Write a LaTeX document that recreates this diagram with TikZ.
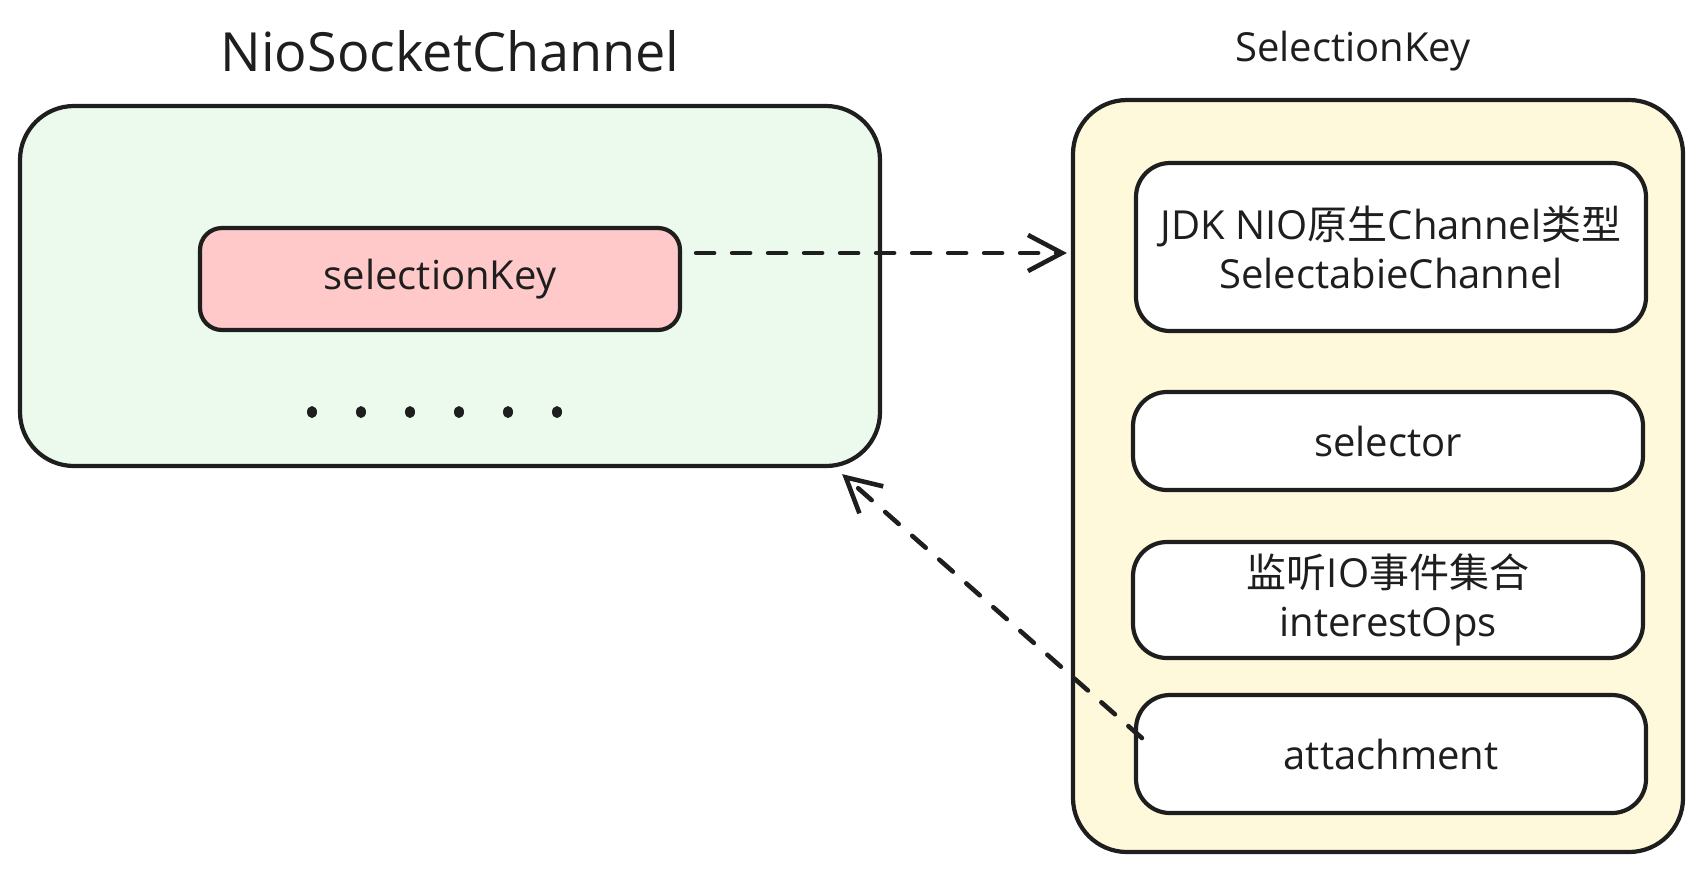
\documentclass[tikz,border=0pt]{standalone}
\usepackage{fontspec}
\setmainfont{Open Sans}
\newfontfamily\cjk{Noto Sans CJK SC}
\usetikzlibrary{arrows.meta}
\definecolor{ink}{HTML}{1E1E1E}
\definecolor{chanfill}{HTML}{EBFAEC}
\definecolor{keyfill}{HTML}{FFC9C9}
\definecolor{selfill}{HTML}{FFF9DB}
\tikzset{
    box/.style={draw=ink, line width=2.1pt, rounded corners=#1, inner sep=0pt,
        align=center, text=ink, font=\fontsize{20}{24.5}\selectfont},
    box/.default=17pt,
    field/.style={box, fill=white, minimum width=255pt},
    title/.style={text=ink, font=\fontsize{27}{32}\selectfont},
    ref/.style={draw=ink, line width=2.3pt, dash pattern=on 9pt off 9pt, line cap=round,
        -{Straight Barb[length=17pt,width=18pt,line width=2.3pt]}},
}
\begin{document}
\begin{tikzpicture}[x=0.5pt,y=-0.5pt]
    \useasboundingbox (0,0) rectangle (1700,874);
    % NioSocketChannel
    \node[title] (chantitle) at (450,51) {NioSocketChannel};
    \node[box=27pt, fill=chanfill, minimum width=430pt, minimum height=180pt] (chan) at (450,286) {};
    \node[box=11pt, fill=keyfill, minimum width=240pt, minimum height=51pt] (sk) at (440,279) {selectionKey};
    \foreach \x in {0,...,5}
        \fill[ink] (312+49*\x,412) ellipse (2.5pt and 3pt);
    % SelectionKey
    \node[title, font=\fontsize{20}{24}\selectfont] (keytitle) at (1353,51) {SelectionKey};
    \node[box=27pt, fill=selfill, minimum width=305pt, minimum height=376pt] (key) at (1378,476) {};
    \node[field, minimum height=84pt] (native) at (1391,247)
        {JDK NIO{\cjk 原生}Channel{\cjk 类型}\\SelectabieChannel};
    \node[field, minimum height=49pt] (selector) at (1388,441) {selector};
    \node[field, minimum height=58pt] (ops) at (1388,600) {{\cjk 监听}IO{\cjk 事件集合}\\interestOps};
    \node[field, minimum height=59pt] (att) at (1391,754) {attachment};
    % References
    \draw[ref] ([xshift=7pt,yshift=13pt]sk.east) -- ([xshift=-2pt,yshift=13pt]sk.east -| key.west);
    \draw[ref] ([xshift=4pt,yshift=8pt]att.west) -- ([xshift=-20pt,yshift=-3pt]chan.south east);
\end{tikzpicture}
\end{document}
